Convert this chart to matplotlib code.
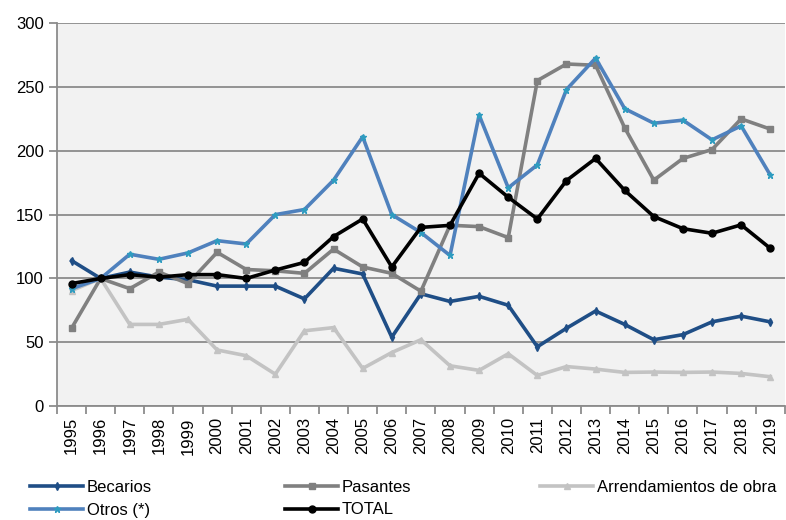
import numpy as np
import matplotlib.pyplot as plt
from matplotlib.ticker import FixedLocator

plt.rcParams['font.family'] = ['Liberation Sans', 'DejaVu Sans']

years = [str(y) for y in range(1995, 2020)]
becarios = [114, 100, 105, 101, 99, 94, 94, 94, 84, 108, 103.5, 54, 88, 82, 86, 79,
            46.5, 61, 74.5, 64, 52, 56, 66, 70.5, 66]
pasantes = [61, 100, 92, 105, 96, 120.5, 107, 106, 104, 123, 109, 104, 90, 141.7, 140.6, 132,
            255, 268, 267, 218, 177, 194, 201, 225, 217]
arrendamientos = [90.5, 100, 64, 64, 68, 44, 39.5, 25, 59, 61.5, 29.5, 42, 52, 31.6, 28, 41,
                  24, 31, 29, 26.4, 26.7, 26.4, 26.7, 25.6, 23]
otros = [92, 100, 119, 115, 120, 129.6, 127, 150, 154, 177, 211, 150, 136, 118, 228, 171,
         189, 248, 272.6, 233, 221.6, 224, 208.6, 219.5, 181]
total = [96, 100, 103, 101, 103, 103, 100, 106.6, 112.6, 132.8, 146.6, 109, 140, 141.6, 182.4, 163.6,
         146.6, 176.7, 194, 169, 148.5, 139, 135.4, 142, 123.6]

fig = plt.figure(figsize=(7.86, 5.2), dpi=100)
ax = fig.add_axes([0.0725, 0.219, 0.926, 0.7365])
ax.set_facecolor('#f2f2f2')

x = np.arange(len(years))
l1, = ax.plot(x, becarios, color='#1f4e86', lw=2.6, marker='d', ms=4, label='Becarios', zorder=3)
l2, = ax.plot(x, pasantes, color='#808080', lw=2.6, marker='s', ms=5, label='Pasantes', zorder=3)
l3, = ax.plot(x, arrendamientos, color='#c3c3c3', lw=2.6, marker='^', ms=4,
              label='Arrendamientos de obra', zorder=3)
l4, = ax.plot(x, otros, color='#4f81bd', lw=2.6, marker='*', ms=5, mfc='#2e9cc0', mec='#2e9cc0',
              label='Otros (*)', zorder=3)
l5, = ax.plot(x, total, color='black', lw=2.6, marker='o', ms=5, label='TOTAL', zorder=4)

ax.set_xlim(-0.5, len(years) - 0.5)
ax.set_ylim(0, 300)
ax.set_yticks(range(0, 301, 50))
ax.grid(axis='y', color='#8c8c8c', lw=1.3, zorder=1)
ax.set_axisbelow(True)

ax.set_xticks(x)
ax.set_xticklabels(years, rotation=90, fontsize=12)
ax.xaxis.set_minor_locator(FixedLocator(np.arange(-0.5, len(years), 1)))
ax.tick_params(axis='x', which='major', length=0, pad=8)
ax.tick_params(axis='x', which='minor', length=6, color='#8c8c8c', width=1.3)
ax.tick_params(axis='y', length=6, color='#8c8c8c', width=1.3, labelsize=12)

for s in ['top', 'right']:
    ax.spines[s].set_visible(False)
for s in ['left', 'bottom']:
    ax.spines[s].set_color('#8c8c8c')
    ax.spines[s].set_linewidth(1.3)

# legend: three columns placed by hand
cols = [([l1, l4], 30), ([l2, l5], 285), ([l3], 540)]
for handles, px in cols:
    leg = fig.legend(handles=handles, loc='upper left', bbox_to_anchor=(px / 786, 1 - 480 / 520),
                     frameon=False, fontsize=12, handlelength=3.2, handletextpad=0.2,
                     labelspacing=0.45, borderpad=0, borderaxespad=0)

fig.savefig('out.png', dpi=100)
